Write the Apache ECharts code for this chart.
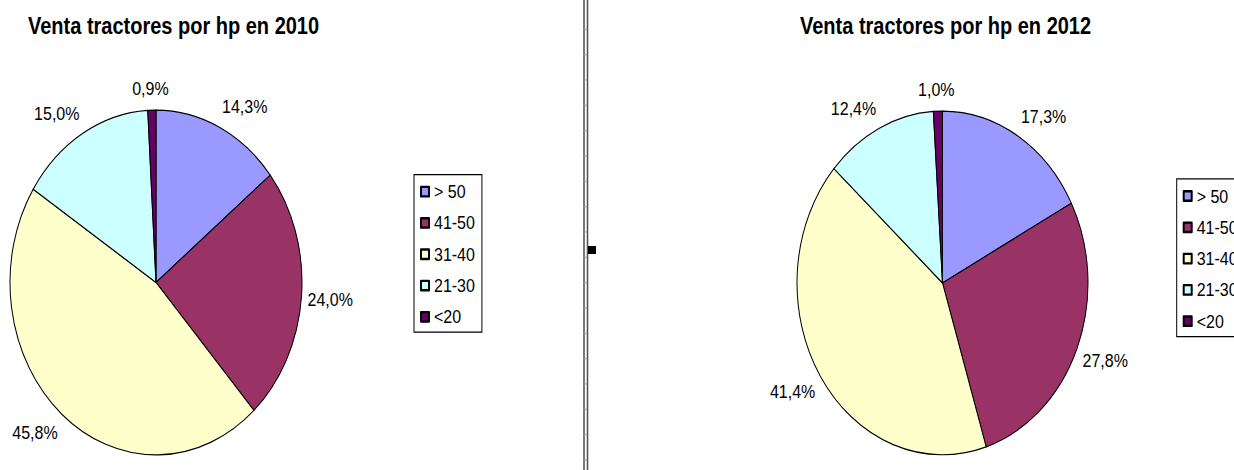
<!DOCTYPE html>
<html>
<head>
<meta charset="utf-8">
<script src="https://cdn.jsdelivr.net/npm/echarts@6/dist/echarts.min.js"></script>
<style>
html { margin: 0; padding: 0; background: #fff; overflow: hidden; }
body { margin: 0; padding: 0; background: #fff; width: 1234px; height: 470px; }
#chart { width: 1234px; height: 398px; transform: scaleY(1.1809); transform-origin: 0 0; }
</style>
</head>
<body>
<div id="chart"></div>
<script>
// ---- data ----
const categories = ['> 50', '41-50', '31-40', '21-30', '<20'];
const colors = ['#9999FF', '#993366', '#FFFFCC', '#CCFFFF', '#660066'];
const values2010 = [14.3, 24.0, 45.8, 15.0, 0.9];
const values2012 = [17.3, 27.8, 41.4, 12.4, 1.0];
const title2010 = 'Venta tractores por hp en 2010';
const title2012 = 'Venta tractores por hp en 2012';

const FONT = 'Liberation Sans, Arial, sans-serif';

function fmt(v) { return v.toFixed(1).replace('.', ',') + '%'; }

// Excel-like placement of outside labels (computed from the data angles)
function makeLayout(values, cx, cy, r) {
  const total = values.reduce((a, b) => a + b, 0);
  const mids = []; let acc = 0;
  values.forEach(v => { mids.push(acc + v / 2); acc += v; });
  const clamp = v => Math.max(-1, Math.min(1, v));
  return function (params) {
    const a = mids[params.dataIndex] / total * 2 * Math.PI;
    const s = Math.sin(a), c = Math.cos(a);
    const w = params.labelRect.width, h = 12;
    return {
      x: cx + (r + 6) * s + w / 2 * clamp(s * 2.5),
      y: cy - (r + 12.5) * c - h / 2 * clamp(c * 2.5),
      align: 'center',
      verticalAlign: 'middle'
    };
  };
}

function pieSeries(name, values, cx, cy, r) {
  return {
    type: 'pie',
    name: name,
    center: [cx, cy],
    radius: [0, r],
    startAngle: 90,
    clockwise: true,
    avoidLabelOverlap: false,
    animation: false,
    emphasis: { disabled: true },
    itemStyle: { borderColor: '#000', borderWidth: 1 },
    label: {
      show: true,
      position: 'outside',
      formatter: p => fmt(p.value),
      color: '#000',
      fontSize: 16,
      fontFamily: FONT
    },
    labelLine: { show: false },
    labelLayout: makeLayout(values, cx, cy, r),
    data: categories.map((c, i) => ({ name: c, value: values[i], itemStyle: { color: colors[i] } }))
  };
}

function legend(left, top) {
  return {
    orient: 'vertical',
    left: left, top: top,
    data: categories,
    icon: 'rect',
    itemWidth: 8, itemHeight: 8,
    itemGap: 10.5,
    padding: [6.5, 7, 5, 6],
    borderColor: '#000', borderWidth: 1,
    backgroundColor: '#fff',
    selectedMode: false,
    textStyle: { color: '#000', fontSize: 16, fontFamily: FONT }
  };
}

// divider decoration
const graphics = [
  { type: 'line', shape: { x1: 584, y1: 0, x2: 584, y2: 398 }, style: { stroke: '#555', lineWidth: 1.6 } },
  { type: 'line', shape: { x1: 587.5, y1: 0, x2: 587.5, y2: 398 }, style: { stroke: '#555', lineWidth: 1.6 } }
];
for (let y = 24.8; y < 398; y += 21.45) {
  graphics.push({ type: 'line', shape: { x1: 583, y1: y, x2: 586.5, y2: y }, style: { stroke: '#999', lineWidth: 1 } });
}
graphics.push({ type: 'rect', shape: { x: 588, y: 208.3, width: 8, height: 6.8 }, style: { fill: '#000' } });

const chart = echarts.init(document.getElementById('chart'), null, { renderer: 'svg' });
chart.setOption({
  backgroundColor: '#fff',
  animation: false,
  title: [
    { text: title2010, left: 28, top: 12, padding: 0,
      textStyle: { fontSize: 20, fontWeight: 'bold', color: '#000', fontFamily: FONT } },
    { text: title2012, left: 800, top: 12, padding: 0,
      textStyle: { fontSize: 20, fontWeight: 'bold', color: '#000', fontFamily: FONT } }
  ],
  legend: [legend(414, 147.8), legend(1176.7, 151.5)],
  graphic: graphics,
  series: [
    pieSeries('2010', values2010, 156, 239.2, 146),
    pieSeries('2012', values2012, 942.5, 239.6, 145.5)
  ]
});
</script>
</body>
</html>
